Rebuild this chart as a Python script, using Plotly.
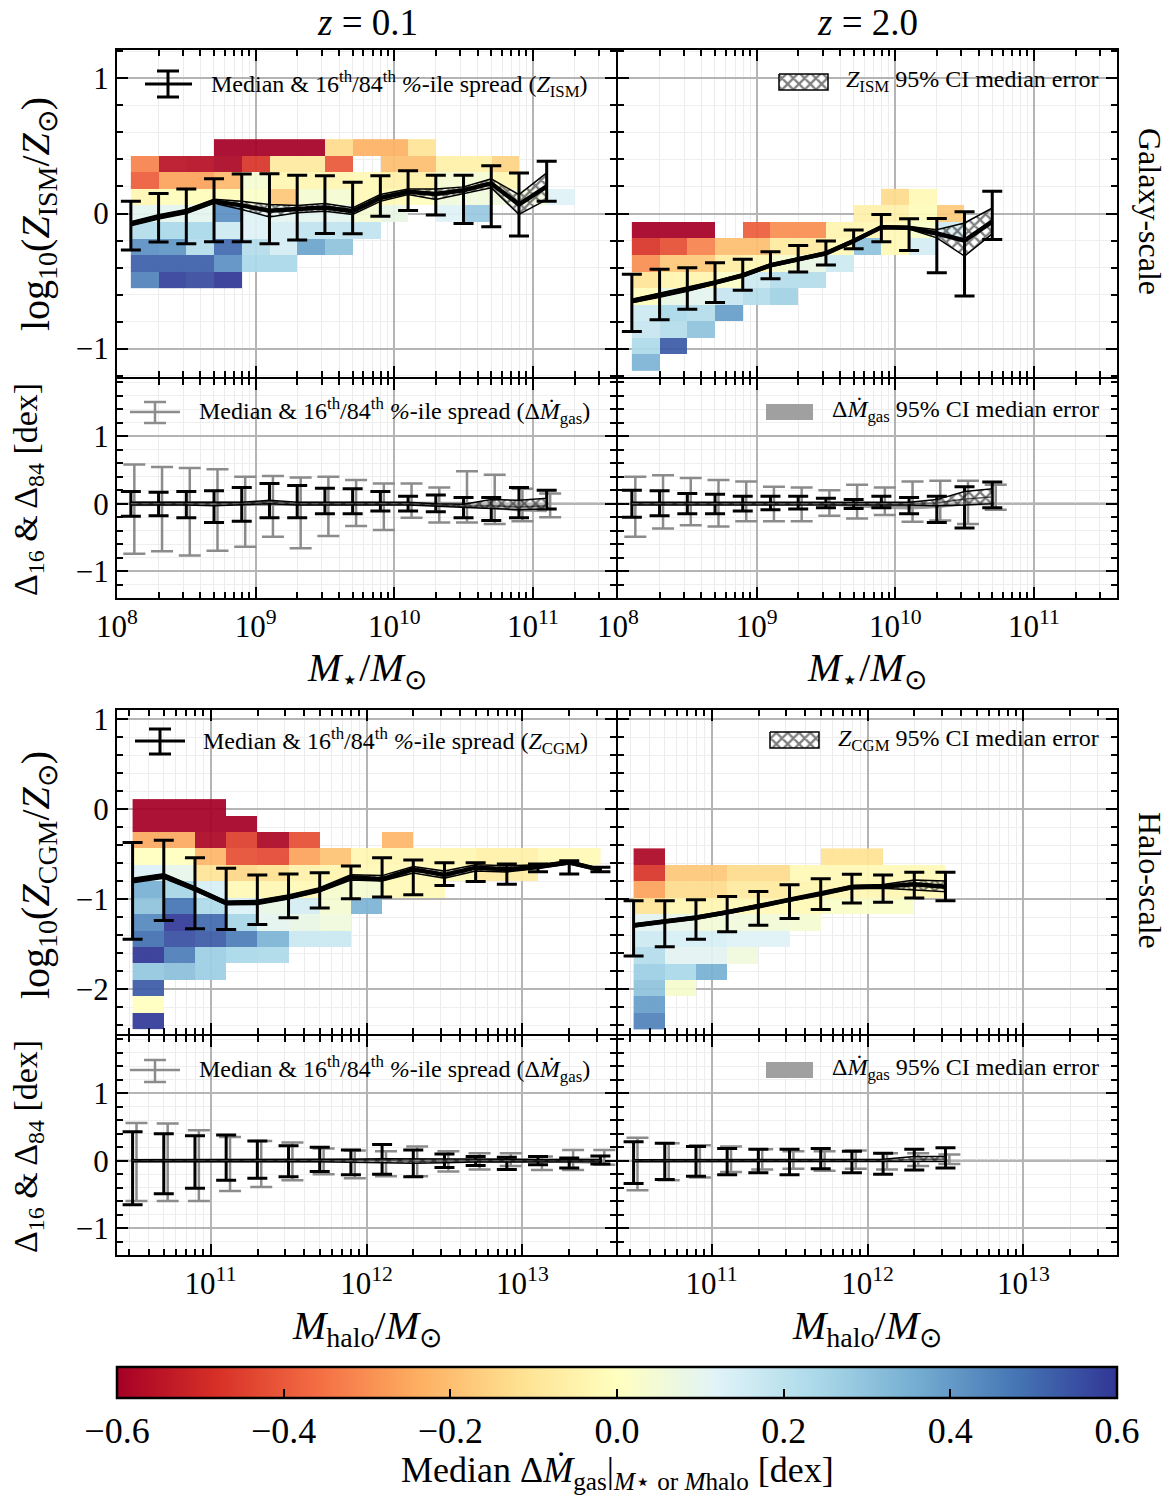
import plotly.graph_objects as go

N = None
FONT = "Liberation Serif"
W, H = 1173, 1497

# ===================== DATA =====================
# ---- Galaxy scale, z = 0.1 (log10 M*/Msun) ----
gal01_logm = [8.1, 8.3, 8.5, 8.7, 8.9, 9.1, 9.3, 9.5, 9.7, 9.9, 10.1, 10.3, 10.5, 10.7, 10.9, 11.1]
gal01_med = [-0.075, -0.025, 0.015, 0.09, 0.06, 0.02, 0.033, 0.045, 0.018, 0.115, 0.16, 0.145, 0.172, 0.223, 0.066, 0.2]
gal01_p16 = [-0.271, -0.211, -0.224, -0.209, -0.209, -0.224, -0.197, -0.148, -0.15, -0.02, 0.022, -0.012, -0.074, -0.098, -0.167, 0.091]
gal01_p84 = [0.091, 0.148, 0.182, 0.258, 0.293, 0.295, 0.283, 0.28, 0.231, 0.28, 0.317, 0.283, 0.283, 0.354, 0.30, 0.386]
gal01_cilo = [-0.09, -0.04, 0.0, 0.075, 0.03, -0.025, 0.005, 0.017, -0.007, 0.09, 0.14, 0.103, 0.148, 0.19, -0.007, 0.103]
gal01_cihi = [-0.06, -0.01, 0.03, 0.105, 0.09, 0.066, 0.06, 0.074, 0.042, 0.14, 0.182, 0.182, 0.197, 0.256, 0.14, 0.30]
gal01_heat_x = [8.1, 8.3, 8.5, 8.7, 8.9, 9.1, 9.3, 9.5, 9.7, 9.9, 10.1, 10.3, 10.5, 10.7, 10.9, 11.1, 11.3]
gal01_heat_y = [0.55, 0.4275, 0.305, 0.1825, 0.06, -0.0625, -0.185, -0.3075, -0.43, -0.5525]
gal01_heat = [
    [N, N, N, -0.6, -0.6, -0.6, -0.6, -0.13, -0.23, -0.23, -0.1, N, N, N, N, N],
    [-0.32, -0.55, -0.56, -0.58, -0.47, -0.08, -0.08, -0.4, N, -0.2, -0.2, -0.06, -0.06, -0.15, N, N],
    [-0.39, -0.26, -0.26, -0.21, 0.04, -0.03, -0.03, -0.03, -0.02, -0.06, -0.06, 0.04, 0.04, -0.03, N, N],
    [-0.03, -0.01, -0.01, -0.01, 0.02, -0.18, 0.04, 0.04, -0.02, -0.02, 0.0, 0.06, 0.06, 0.06, 0.06, 0.12],
    [0.1, 0.1, 0.1, 0.42, 0.12, 0.1, 0.1, 0.1, 0.04, 0.08, N, 0.12, 0.28, N, N, N],
    [0.22, 0.24, 0.24, 0.16, 0.12, 0.15, 0.19, 0.19, 0.19, N, N, N, N, N, N, N],
    [0.42, 0.41, 0.22, 0.5, 0.22, 0.15, 0.38, 0.3, N, N, N, N, N, N, N, N],
    [0.52, 0.52, 0.52, 0.42, 0.24, 0.24, N, N, N, N, N, N, N, N, N, N],
    [0.45, 0.58, 0.56, 0.6, N, N, N, N, N, N, N, N, N, N, N, N],
]

# ---- Galaxy scale, z = 2.0 ----
gal2_logm = [8.1, 8.3, 8.5, 8.7, 8.9, 9.1, 9.3, 9.5, 9.7, 9.9, 10.1, 10.3, 10.5, 10.7]
gal2_med = [-0.647, -0.605, -0.561, -0.512, -0.458, -0.384, -0.339, -0.295, -0.204, -0.101, -0.106, -0.148, -0.2, -0.06]
gal2_p16 = [-0.873, -0.787, -0.708, -0.659, -0.568, -0.482, -0.433, -0.381, -0.261, -0.209, -0.273, -0.438, -0.61, -0.192]
gal2_p84 = [-0.45, -0.413, -0.401, -0.364, -0.339, -0.283, -0.236, -0.204, -0.123, -0.007, -0.039, -0.037, 0.013, 0.165]
gal2_cilo = [-0.66, -0.62, -0.575, -0.525, -0.47, -0.395, -0.35, -0.305, -0.215, -0.11, -0.115, -0.18, -0.315, -0.15]
gal2_cihi = [-0.635, -0.59, -0.548, -0.5, -0.445, -0.372, -0.328, -0.283, -0.192, -0.09, -0.097, -0.12, -0.07, 0.04]
gal2_heat_x = [8.1, 8.3, 8.5, 8.7, 8.9, 9.1, 9.3, 9.5, 9.7, 9.9, 10.1, 10.3, 10.5, 10.7, 10.9]
gal2_heat_y = [0.1825, 0.06, -0.0625, -0.185, -0.3075, -0.43, -0.5525, -0.675, -0.7975, -0.92, -1.0425, -1.165]
gal2_heat = [
    [N, N, N, N, N, N, N, N, N, -0.13, -0.02, N, N, N],
    [N, N, N, N, N, N, N, N, -0.05, -0.05, -0.01, -0.17, N, N],
    [-0.6, -0.6, -0.6, N, -0.39, -0.3, -0.3, -0.04, -0.03, -0.02, 0.02, 0.16, N, N],
    [-0.47, -0.42, -0.32, -0.2, -0.2, -0.08, -0.08, -0.02, 0.3, -0.02, 0.15, N, N, N],
    [-0.3, -0.18, -0.18, -0.07, -0.03, 0.03, 0.08, 0.16, N, N, N, N, N, N],
    [-0.1, -0.04, -0.04, 0.02, 0.16, 0.22, 0.22, N, N, N, N, N, N, N],
    [-0.01, 0.08, 0.1, 0.18, 0.22, 0.26, N, N, N, N, N, N, N, N],
    [0.16, 0.24, 0.22, 0.39, N, N, N, N, N, N, N, N, N, N],
    [0.18, 0.22, 0.3, N, N, N, N, N, N, N, N, N, N, N],
    [0.23, 0.53, N, N, N, N, N, N, N, N, N, N, N, N],
    [0.34, N, N, N, N, N, N, N, N, N, N, N, N, N],
]

# ---- Halo scale, z = 0.1 (log10 Mhalo/Msun) ----
halo01_logm = [10.5, 10.7, 10.9, 11.1, 11.3, 11.5, 11.7, 11.9, 12.1, 12.3, 12.5, 12.7, 12.9, 13.1, 13.3, 13.5]
halo01_med = [-0.795, -0.743, -0.887, -1.044, -1.037, -0.978, -0.898, -0.758, -0.78, -0.67, -0.732, -0.652, -0.67, -0.641, -0.593, -0.677]
halo01_p16 = [-1.448, -1.239, -1.33, -1.338, -1.283, -1.209, -1.099, -0.997, -0.978, -0.953, -0.85, -0.806, -0.835, -0.696, -0.721, -0.696]
halo01_p84 = [-0.372, -0.347, -0.542, -0.659, -0.732, -0.721, -0.707, -0.633, -0.542, -0.567, -0.597, -0.597, -0.611, -0.611, -0.575, -0.648]
halo01_cilo = [-0.82, -0.77, -0.91, -1.065, -1.06, -1.0, -0.92, -0.79, -0.80, -0.71, -0.77, -0.69, -0.70, -0.66, -0.61, -0.69]
halo01_cihi = [-0.77, -0.72, -0.865, -1.025, -1.015, -0.955, -0.875, -0.73, -0.74, -0.64, -0.69, -0.62, -0.63, -0.62, -0.575, -0.665]
halo01_heat_x = [10.5, 10.7, 10.9, 11.1, 11.3, 11.5, 11.7, 11.9, 12.1, 12.3, 12.5, 12.7, 12.9, 13.1, 13.3, 13.5]
halo01_heat_y = [0.11, -0.0725, -0.255, -0.4375, -0.62, -0.8025, -0.985, -1.1675, -1.35, -1.5325, -1.715, -1.8975, -2.08, -2.2625, -2.445]
halo01_heat = [
    [-0.6, -0.6, -0.6, N, N, N, N, N, N, N, N, N, N, N, N],
    [-0.6, -0.6, -0.6, -0.6, N, N, N, N, N, N, N, N, N, N, N],
    [-0.25, -0.25, -0.58, -0.45, -0.58, -0.42, N, N, -0.22, N, N, N, N, N, N],
    [0.0, 0.0, -0.22, -0.42, -0.43, -0.26, -0.19, -0.03, -0.03, -0.03, -0.03, -0.06, -0.06, -0.02, -0.02],
    [0.13, 0.09, -0.1, -0.14, -0.12, -0.05, -0.04, -0.02, -0.02, -0.02, -0.02, -0.08, -0.07, N, N],
    [0.35, 0.25, 0.14, -0.02, -0.03, -0.02, 0.03, 0.04, -0.02, -0.02, N, N, N, N, N],
    [0.3, 0.48, 0.23, 0.13, 0.08, 0.15, 0.04, 0.34, N, N, N, N, N, N, N],
    [0.44, 0.59, 0.5, 0.25, 0.1, 0.08, 0.06, N, N, N, N, N, N, N, N],
    [0.49, 0.55, 0.53, 0.46, 0.34, 0.17, 0.17, N, N, N, N, N, N, N, N],
    [0.6, 0.46, 0.27, 0.24, 0.23, N, N, N, N, N, N, N, N, N, N],
    [0.29, 0.31, 0.27, N, N, N, N, N, N, N, N, N, N, N, N],
    [0.53, N, N, N, N, N, N, N, N, N, N, N, N, N, N],
    [0.0, N, N, N, N, N, N, N, N, N, N, N, N, N, N],
    [0.59, N, N, N, N, N, N, N, N, N, N, N, N, N, N],
]

# ---- Halo scale, z = 2.0 ----
halo2_logm = [10.5, 10.7, 10.9, 11.1, 11.3, 11.5, 11.7, 11.9, 12.1, 12.3, 12.5]
halo2_med = [-1.294, -1.247, -1.209, -1.148, -1.081, -1.008, -0.945, -0.868, -0.861, -0.835, -0.865]
halo2_p16 = [-1.632, -1.53, -1.448, -1.363, -1.291, -1.217, -1.118, -1.044, -1.037, -0.989, -1.019]
halo2_p84 = [-1.019, -1.019, -1.008, -0.971, -0.916, -0.843, -0.776, -0.725, -0.732, -0.703, -0.703]
halo2_cilo = [-1.31, -1.265, -1.225, -1.165, -1.1, -1.025, -0.962, -0.885, -0.88, -0.9, -0.92]
halo2_cihi = [-1.275, -1.23, -1.19, -1.13, -1.062, -0.99, -0.928, -0.85, -0.84, -0.79, -0.8]
halo2_heat_x = [10.5, 10.7, 10.9, 11.1, 11.3, 11.5, 11.7, 11.9, 12.1, 12.3, 12.5]
halo2_heat_y = [-0.4375, -0.62, -0.8025, -0.985, -1.1675, -1.35, -1.5325, -1.715, -1.8975, -2.08, -2.2625, -2.445]
halo2_heat = [
    [-0.58, N, N, N, N, N, -0.11, -0.11, N, N],
    [-0.47, -0.18, -0.18, -0.13, -0.13, -0.02, -0.02, -0.02, -0.02, -0.02],
    [-0.26, -0.13, -0.13, -0.08, -0.08, -0.04, -0.03, -0.03, -0.03, -0.03],
    [-0.1, -0.03, -0.03, -0.02, -0.02, -0.02, 0.02, 0.02, 0.02, N],
    [0.11, 0.09, 0.05, 0.06, 0.05, 0.04, N, N, N, N],
    [0.16, 0.14, 0.14, 0.12, 0.12, N, N, N, N, N],
    [0.22, 0.11, 0.11, 0.06, N, N, N, N, N, N],
    [0.27, 0.24, 0.35, N, N, N, N, N, N, N],
    [0.3, 0.03, N, N, N, N, N, N, N, N],
    [0.39, N, N, N, N, N, N, N, N, N],
    [0.45, N, N, N, N, N, N, N, N, N],
]

# ---- Residual panels (Delta_16 & Delta_84) ----
# black: Z residuals, gray: Delta Mdot_gas
rg01_zmed = [0.0, 0.0, 0.0, -0.01, 0.0, 0.03, 0.0, 0.0, 0.0, 0.0, 0.0, -0.02, -0.04, -0.03, -0.05, -0.03]
rg01_zlo = [-0.185, -0.18, -0.21, -0.28, -0.26, -0.21, -0.21, -0.15, -0.15, -0.11, -0.11, -0.12, -0.21, -0.25, -0.21, -0.08]
rg01_zhi = [0.18, 0.17, 0.18, 0.19, 0.24, 0.30, 0.27, 0.23, 0.22, 0.18, 0.11, 0.13, 0.09, 0.09, 0.24, 0.20]
rg01_zcilo = [-0.02, -0.02, -0.02, -0.03, -0.02, 0.0, -0.02, -0.02, -0.02, -0.02, -0.02, -0.04, -0.06, -0.07, -0.09, -0.08]
rg01_zcihi = [0.02, 0.02, 0.02, 0.01, 0.02, 0.05, 0.02, 0.02, 0.02, 0.02, 0.02, 0.0, -0.01, 0.06, 0.05, 0.08]
rg01_gmed = [0.0, 0.0, 0.0, 0.0, 0.0, 0.0, 0.0, 0.0, 0.0, 0.0, 0.0, 0.0, -0.01, -0.03, -0.06, -0.06]
rg01_glo = [-0.745, -0.707, -0.77, -0.70, -0.64, -0.49, -0.66, -0.48, -0.33, -0.39, -0.21, -0.28, -0.28, -0.30, -0.26, -0.20]
rg01_ghi = [0.58, 0.545, 0.53, 0.51, 0.40, 0.41, 0.39, 0.40, 0.35, 0.30, 0.30, 0.24, 0.48, 0.43, 0.22, 0.15]
rg01_gcilo = [-0.03, -0.03, -0.03, -0.03, -0.03, -0.02, -0.02, -0.02, -0.02, -0.02, -0.02, -0.02, -0.04, -0.07, -0.11, -0.12]
rg01_gcihi = [0.03, 0.03, 0.03, 0.03, 0.03, 0.02, 0.02, 0.02, 0.02, 0.02, 0.02, 0.02, 0.02, 0.01, 0.0, 0.0]

rg2_zmed = [0.0, 0.0, 0.0, 0.0, 0.0, 0.0, 0.0, 0.0, 0.0, 0.0, 0.0, 0.01, 0.07, 0.1]
rg2_zlo = [-0.2, -0.18, -0.15, -0.15, -0.11, -0.09, -0.08, -0.06, -0.07, -0.06, -0.15, -0.28, -0.36, -0.06]
rg2_zhi = [0.20, 0.19, 0.15, 0.14, 0.11, 0.11, 0.11, 0.08, 0.06, 0.11, 0.09, 0.11, 0.25, 0.32]
rg2_zcilo = [-0.02, -0.02, -0.02, -0.02, -0.02, -0.02, -0.02, -0.02, -0.02, -0.02, -0.02, -0.03, -0.02, 0.0]
rg2_zcihi = [0.02, 0.02, 0.02, 0.02, 0.02, 0.02, 0.02, 0.02, 0.02, 0.02, 0.02, 0.06, 0.18, 0.22]
rg2_gmed = [0.0, 0.0, 0.0, 0.0, 0.0, 0.0, 0.0, 0.0, -0.02, -0.03, -0.04, -0.03, 0.0, 0.0]
rg2_glo = [-0.49, -0.37, -0.32, -0.34, -0.26, -0.26, -0.26, -0.18, -0.22, -0.17, -0.27, -0.25, -0.30, -0.09]
rg2_ghi = [0.40, 0.42, 0.38, 0.35, 0.33, 0.25, 0.24, 0.20, 0.28, 0.24, 0.33, 0.34, 0.34, 0.28]
rg2_gcilo = [-0.02, -0.02, -0.02, -0.02, -0.02, -0.02, -0.02, -0.02, -0.05, -0.07, -0.08, -0.06, -0.02, -0.02]
rg2_gcihi = [0.02, 0.02, 0.02, 0.02, 0.02, 0.02, 0.02, 0.01, 0.0, 0.0, 0.0, 0.0, 0.02, 0.02]

rh01_zmed = [0.0, 0.0, 0.0, 0.0, 0.0, 0.0, 0.0, 0.0, 0.01, -0.01, 0.0, 0.0, 0.0, 0.0, 0.0, 0.0]
rh01_zlo = [-0.655, -0.49, -0.41, -0.29, -0.26, -0.24, -0.16, -0.21, -0.20, -0.24, -0.10, -0.07, -0.13, -0.06, -0.11, -0.05]
rh01_zhi = [0.43, 0.40, 0.37, 0.38, 0.29, 0.22, 0.20, 0.16, 0.24, 0.16, 0.10, 0.06, 0.05, 0.06, 0.04, 0.07]
rh01_zcilo = [-0.015, -0.015, -0.015, -0.015, -0.015, -0.015, -0.015, -0.02, -0.03, -0.04, -0.03, -0.02, -0.02, -0.015, -0.015, -0.015]
rh01_zcihi = [0.015, 0.015, 0.015, 0.015, 0.015, 0.015, 0.015, 0.02, 0.03, 0.03, 0.03, 0.02, 0.02, 0.015, 0.015, 0.015]
rh01_gmed = [0.0, 0.0, 0.0, 0.0, 0.0, 0.0, 0.0, 0.0, 0.0, 0.0, 0.0, 0.0, 0.0, 0.0, 0.0, 0.0]
rh01_glo = [-0.60, -0.60, -0.60, -0.45, -0.39, -0.29, -0.20, -0.26, -0.23, -0.23, -0.16, -0.13, -0.08, -0.14, -0.14, -0.06]
rh01_ghi = [0.56, 0.55, 0.45, 0.35, 0.29, 0.27, 0.18, 0.15, 0.14, 0.21, 0.14, 0.11, 0.11, 0.06, 0.16, 0.16]
rh01_gcilo = [-0.02, -0.02, -0.02, -0.02, -0.02, -0.02, -0.02, -0.02, -0.02, -0.02, -0.02, -0.02, -0.02, -0.02, -0.03, -0.04]
rh01_gcihi = [0.02, 0.02, 0.02, 0.02, 0.02, 0.02, 0.02, 0.02, 0.02, 0.02, 0.02, 0.02, 0.02, 0.02, 0.03, 0.04]

rh2_zmed = [0.0, 0.0, 0.0, 0.0, 0.0, 0.0, 0.0, 0.0, 0.0, 0.02, 0.02]
rh2_zlo = [-0.34, -0.28, -0.23, -0.21, -0.18, -0.21, -0.12, -0.18, -0.20, -0.14, -0.11]
rh2_zhi = [0.28, 0.26, 0.21, 0.18, 0.17, 0.17, 0.18, 0.14, 0.11, 0.17, 0.19]
rh2_zcilo = [-0.015, -0.015, -0.015, -0.015, -0.015, -0.015, -0.015, -0.015, -0.02, -0.01, -0.01]
rh2_zcihi = [0.015, 0.015, 0.015, 0.015, 0.015, 0.015, 0.015, 0.015, 0.02, 0.06, 0.06]
rh2_gmed = [0.0, 0.0, 0.0, 0.0, 0.0, 0.0, 0.0, 0.0, 0.0, 0.0, 0.0]
rh2_glo = [-0.44, -0.29, -0.25, -0.17, -0.13, -0.12, -0.15, -0.12, -0.13, -0.08, -0.05]
rh2_ghi = [0.34, 0.26, 0.23, 0.21, 0.17, 0.14, 0.14, 0.15, 0.11, 0.11, 0.09]
rh2_gcilo = [-0.015, -0.015, -0.015, -0.015, -0.015, -0.015, -0.015, -0.015, -0.02, -0.02, -0.02]
rh2_gcihi = [0.015, 0.015, 0.015, 0.015, 0.015, 0.015, 0.015, 0.015, 0.02, 0.02, 0.02]

# colour bar ticks
cbar_ticks = [-0.6, -0.4, -0.2, 0.0, 0.2, 0.4, 0.6]
cbar_ticktext = ["\u22120.6", "\u22120.4", "\u22120.2", "0.0", "0.2", "0.4", "0.6"]

# ===================== STYLE / LAYOUT =====================
RDYLBU = ['#a50026', '#d73027', '#f46d43', '#fdae61', '#fee090', '#ffffbf',
          '#e0f3f8', '#abd9e9', '#74add1', '#4575b4', '#313695']
CSCALE = [[i / (len(RDYLBU) - 1), c] for i, c in enumerate(RDYLBU)]
GRAY = '#8c8c8c'
GRAY_DX = 0.025
LW = 2.2

fig = go.Figure()

# neighbouring panels are offset by one pixel so that their frame lines overlap
XL = [117 / W, 616 / W]
XR = [618 / W, 1117 / W]


def ydom(top, bot):
    return [1 - bot / H, 1 - top / H]


GAL_XR = [8.0, 11.6]
HALO_XR = [10.4, 13.6]
panels = {
    1: (XL, 50, 377, GAL_XR, [-1.21, 1.21], [8, 9, 10, 11], [-1, 0, 1], False, True),
    2: (XR, 50, 377, GAL_XR, [-1.21, 1.21], [8, 9, 10, 11], [-1, 0, 1], False, False),
    3: (XL, 379, 598, GAL_XR, [-1.4, 1.85], [8, 9, 10, 11], [-1, 0, 1], True, True),
    4: (XR, 379, 598, GAL_XR, [-1.4, 1.85], [8, 9, 10, 11], [-1, 0, 1], True, False),
    5: (XL, 710, 1034, HALO_XR, [-2.5, 1.1], [11, 12, 13], [-2, -1, 0, 1], False, True),
    6: (XR, 710, 1034, HALO_XR, [-2.5, 1.1], [11, 12, 13], [-2, -1, 0, 1], False, False),
    7: (XL, 1036, 1255, HALO_XR, [-1.4, 1.85], [11, 12, 13], [-1, 0, 1], True, True),
    8: (XR, 1036, 1255, HALO_XR, [-1.4, 1.85], [11, 12, 13], [-1, 0, 1], True, False),
}


def minor_logs(lo, hi):
    import math
    vals = []
    for dec in range(int(math.floor(lo)) - 1, int(math.ceil(hi)) + 1):
        for k in range(2, 10):
            v = dec + math.log10(k)
            if lo < v < hi:
                vals.append(v)
    return vals


def ytxt(v):
    return ("\u2212" + str(abs(v))) if v < 0 else str(v)


tickfont = dict(family=FONT, size=31, color='black')
layout_axes = {}
for i, (xd, ptop, pbot, xr, yr, xt, yt, showx, showy) in panels.items():
    sfx = '' if i == 1 else str(i)
    layout_axes['xaxis' + sfx] = dict(
        domain=xd, range=xr, anchor='y' + sfx, tickmode='array', tickvals=xt,
        ticktext=['10<sup>%d</sup>' % t for t in xt], showticklabels=showx,
        ticks='inside', ticklen=11, tickwidth=2, tickcolor='black',
        showline=True, linewidth=LW, linecolor='black', mirror='ticks',
        showgrid=True, gridcolor='#b4b4b4', gridwidth=1.5, zeroline=False,
        tickfont=tickfont,
        minor=dict(tickmode='array', tickvals=minor_logs(xr[0], xr[1]), ticks='inside',
                   ticklen=6, tickwidth=1.5, tickcolor='black', showgrid=True,
                   gridcolor='#ececec', gridwidth=1))
    layout_axes['yaxis' + sfx] = dict(
        domain=ydom(ptop, pbot), range=yr, anchor='x' + sfx, tickmode='array', tickvals=yt,
        ticktext=[ytxt(v) for v in yt], showticklabels=showy,
        ticks='inside', ticklen=11, tickwidth=2, tickcolor='black',
        showline=True, linewidth=LW, linecolor='black', mirror='ticks',
        showgrid=True, gridcolor='#b4b4b4', gridwidth=1.5, zeroline=False,
        tickfont=tickfont,
        minor=dict(dtick=0.2, tick0=0, ticks='inside', ticklen=6, tickwidth=1.5,
                   tickcolor='black', showgrid=True, gridcolor='#efefef', gridwidth=1))


def ax(i):
    return ('x' if i == 1 else 'x%d' % i), ('y' if i == 1 else 'y%d' % i)


def add_heat(i, xe, ye_topdown, rows, showscale=False):
    xa, ya = ax(i)
    kw = {}
    if showscale:
        kw['colorbar'] = dict(
            orientation='h', x=617 / W, xanchor='center', xref='paper',
            y=1 - 1367 / H, yanchor='top', yref='paper',
            len=1000, lenmode='pixels', thickness=31, thicknessmode='pixels',
            outlinewidth=2.5, outlinecolor='black', xpad=0, ypad=0,
            tickmode='array', tickvals=cbar_ticks, ticktext=cbar_ticktext,
            ticks='inside', ticklen=10, tickwidth=1.5, tickcolor='black',
            tickfont=dict(family=FONT, size=36, color='black'), title=dict(text=''))
    fig.add_trace(go.Heatmap(
        x=xe, y=ye_topdown[::-1], z=rows[::-1], colorscale=CSCALE, zmin=-0.6, zmax=0.6,
        showscale=showscale, opacity=0.93, hoverinfo='skip', xaxis=xa, yaxis=ya, **kw))


def add_band(i, xs, lo, hi, hatch=True):
    xa, ya = ax(i)
    if hatch:
        fig.add_trace(go.Scatter(
            x=list(xs) + list(xs)[::-1], y=list(hi) + list(lo)[::-1], fill='toself',
            fillcolor='rgba(255,255,255,0.35)', mode='lines',
            line=dict(color='black', width=1.5),
            fillpattern=dict(shape='x', fgcolor='black', size=8, solidity=0.5),
            hoverinfo='skip', showlegend=False, xaxis=xa, yaxis=ya))
    else:
        fig.add_trace(go.Scatter(
            x=list(xs) + list(xs)[::-1], y=list(hi) + list(lo)[::-1], fill='toself',
            fillcolor='rgba(150,150,150,0.85)', mode='lines',
            line=dict(color='rgba(150,150,150,0.9)', width=1),
            hoverinfo='skip', showlegend=False, xaxis=xa, yaxis=ya))


def add_eb(i, xs, med, lo, hi, color='black', lw=3.5, thick=3, capw=10, dx=0.0):
    xa, ya = ax(i)
    fig.add_trace(go.Scatter(
        x=[x + dx for x in xs], y=med, mode='lines', line=dict(color=color, width=lw),
        error_y=dict(type='data', symmetric=False,
                     array=[h - m for h, m in zip(hi, med)],
                     arrayminus=[m - l for m, l in zip(med, lo)],
                     color=color, thickness=thick, width=capw),
        hoverinfo='skip', showlegend=False, xaxis=xa, yaxis=ya))


# ---- main panels ----
add_heat(1, gal01_heat_x, gal01_heat_y, gal01_heat, showscale=True)
add_band(1, gal01_logm, gal01_cilo, gal01_cihi)
add_eb(1, gal01_logm, gal01_med, gal01_p16, gal01_p84, lw=4.5)

add_heat(2, gal2_heat_x, gal2_heat_y, gal2_heat)
add_band(2, gal2_logm, gal2_cilo, gal2_cihi)
add_eb(2, gal2_logm, gal2_med, gal2_p16, gal2_p84, lw=4.5)

add_heat(5, halo01_heat_x, halo01_heat_y, halo01_heat)
add_band(5, halo01_logm, halo01_cilo, halo01_cihi)
add_eb(5, halo01_logm, halo01_med, halo01_p16, halo01_p84, lw=4.5)

add_heat(6, halo2_heat_x, halo2_heat_y, halo2_heat)
add_band(6, halo2_logm, halo2_cilo, halo2_cihi)
add_eb(6, halo2_logm, halo2_med, halo2_p16, halo2_p84, lw=4.5)

# ---- residual panels ----
resid = [
    (3, gal01_logm, rg01_zmed, rg01_zlo, rg01_zhi, rg01_zcilo, rg01_zcihi, rg01_gmed, rg01_glo, rg01_ghi, rg01_gcilo, rg01_gcihi),
    (4, gal2_logm, rg2_zmed, rg2_zlo, rg2_zhi, rg2_zcilo, rg2_zcihi, rg2_gmed, rg2_glo, rg2_ghi, rg2_gcilo, rg2_gcihi),
    (7, halo01_logm, rh01_zmed, rh01_zlo, rh01_zhi, rh01_zcilo, rh01_zcihi, rh01_gmed, rh01_glo, rh01_ghi, rh01_gcilo, rh01_gcihi),
    (8, halo2_logm, rh2_zmed, rh2_zlo, rh2_zhi, rh2_zcilo, rh2_zcihi, rh2_gmed, rh2_glo, rh2_ghi, rh2_gcilo, rh2_gcihi),
]
shapes = []
for (i, xs, zm, zl, zh, zcl, zch, gm, gl, gh, gcl, gch) in resid:
    xa, ya = ax(i)
    shapes.append(dict(type='line', xref=xa + ' domain', yref=ya, x0=0, x1=1, y0=0, y1=0,
                       line=dict(color='#a0a0a0', width=2.5), layer='below'))
    add_band(i, xs, gcl, gch, hatch=False)
    add_eb(i, xs, gm, gl, gh, color=GRAY, lw=2.5, thick=2.5, capw=11, dx=GRAY_DX)
    add_eb(i, xs, zm, zl, zh, color='black', lw=1.5, thick=3, capw=10)
    add_band(i, xs, zcl, zch, hatch=True)

# ===================== LEGENDS (glyphs + text) =====================
annotations = []


def P(px, py):
    return px / W, 1 - py / H


def eb_glyph(xl, xr_, yc, yt, yb, cx, cw, color):
    for (x0, y0, x1, y1) in [(xl, yc, xr_, yc), (cx, yt, cx, yb), (cx - cw, yt, cx + cw, yt), (cx - cw, yb, cx + cw, yb)]:
        a, b = P(x0, y0)
        c, d = P(x1, y1)
        shapes.append(dict(type='line', xref='paper', yref='paper', x0=a, y0=b, x1=c, y1=d,
                           line=dict(color=color, width=3 if color == 'black' else 2.5)))


def hatch_box(i, px0, px1, py0, py1):
    xd, ptop, pbot, xr, yr = panels[i][:5]
    left = xd[0] * W
    width = (xd[1] - xd[0]) * W

    def dx(px):
        return xr[0] + (px - left) / width * (xr[1] - xr[0])

    def dy(py):
        return yr[1] - (py - ptop) / (pbot - ptop) * (yr[1] - yr[0])
    xa, ya = ax(i)
    fig.add_trace(go.Scatter(
        x=[dx(px0), dx(px1), dx(px1), dx(px0), dx(px0)], y=[dy(py0), dy(py0), dy(py1), dy(py1), dy(py0)],
        fill='toself', fillcolor='white', mode='lines', line=dict(color='black', width=1.5),
        fillpattern=dict(shape='x', fgcolor='black', size=8, solidity=0.5),
        hoverinfo='skip', showlegend=False, xaxis=xa, yaxis=ya))


def gray_box(px0, px1, py0, py1):
    a, b = P(px0, py1)
    c, d = P(px1, py0)
    shapes.append(dict(type='rect', xref='paper', yref='paper', x0=a, y0=b, x1=c, y1=d,
                       fillcolor='#a0a0a0', line=dict(width=0)))


def text(px, py, s, size=24, anchor='left', angle=0):
    a, b = P(px, py)
    annotations.append(dict(xref='paper', yref='paper', x=a, y=b, text=s, showarrow=False,
                            xanchor=anchor, yanchor='middle', textangle=angle,
                            font=dict(family=FONT, size=size, color='black')))


SPREAD = "Median &amp; 16<sup>th</sup>/84<sup>th</sup> <i>%</i>-ile spread "
MDOT = "\u0394<i>\u1E40</i><sub>gas</sub>"

# galaxy main
eb_glyph(145, 192, 84, 71, 97, 168, 11, 'black')
text(209, 84, SPREAD + "(<i>Z</i><sub>ISM</sub>)")
hatch_box(2, 779, 828, 74, 90)
text(844, 81, "<i>Z</i><sub>ISM</sub> 95% CI median error")
# galaxy residual
eb_glyph(130, 180, 412, 402, 423, 155, 11, GRAY)
text(197, 411, SPREAD + "(" + MDOT + ")")
gray_box(766, 813, 404, 420)
text(830, 411, MDOT + " 95% CI median error")
# halo main
eb_glyph(135, 185, 741, 729, 754, 160, 11, 'black')
text(201, 741, SPREAD + "(<i>Z</i><sub>CGM</sub>)")
hatch_box(6, 770, 819, 732, 748)
text(836, 740, "<i>Z</i><sub>CGM</sub> 95% CI median error")
# halo residual
eb_glyph(130, 180, 1070, 1060, 1082, 155, 11, GRAY)
text(197, 1069, SPREAD + "(" + MDOT + ")")
gray_box(766, 813, 1062, 1078)
text(830, 1069, MDOT + " 95% CI median error")

# ===================== TITLES =====================
text(367, 22, "<i>z</i> = 0.1", size=37, anchor='center')
text(867, 22, "<i>z</i> = 2.0", size=37, anchor='center')
text(367, 670, "<i>M</i><sub>\u22c6</sub>/<i>M</i><sub>\u2299</sub>", size=40, anchor='center')
text(867, 670, "<i>M</i><sub>\u22c6</sub>/<i>M</i><sub>\u2299</sub>", size=40, anchor='center')
text(367, 1328, "<i>M</i><sub>halo</sub>/<i>M</i><sub>\u2299</sub>", size=40, anchor='center')
text(867, 1328, "<i>M</i><sub>halo</sub>/<i>M</i><sub>\u2299</sub>", size=40, anchor='center')
text(38, 214, "log<sub>10</sub>(<i>Z</i><sub>ISM</sub>/<i>Z</i><sub>\u2299</sub>)", size=40, anchor='center', angle=-90)
text(38, 875, "log<sub>10</sub>(<i>Z</i><sub>CGM</sub>/<i>Z</i><sub>\u2299</sub>)", size=40, anchor='center', angle=-90)
text(28, 490, "\u0394<sub>16</sub> &amp; \u0394<sub>84</sub> [dex]", size=34, anchor='center', angle=-90)
text(28, 1147, "\u0394<sub>16</sub> &amp; \u0394<sub>84</sub> [dex]", size=34, anchor='center', angle=-90)
text(1150, 211, "Galaxy-scale", size=32, anchor='center', angle=90)
text(1150, 880, "Halo-scale", size=32, anchor='center', angle=90)
text(617, 1472, "Median \u0394<i>\u1E40</i><sub>gas</sub>|<sub><i>M</i>\u22c6 or <i>M</i>halo</sub> [dex]", size=36, anchor='center')

fig.update_layout(
    width=W, height=H, margin=dict(l=0, r=0, t=0, b=0, autoexpand=False),
    paper_bgcolor='white', plot_bgcolor='white', showlegend=False,
    font=dict(family=FONT, color='black'),
    shapes=shapes, annotations=annotations, **layout_axes)

fig.write_html("out.html")
